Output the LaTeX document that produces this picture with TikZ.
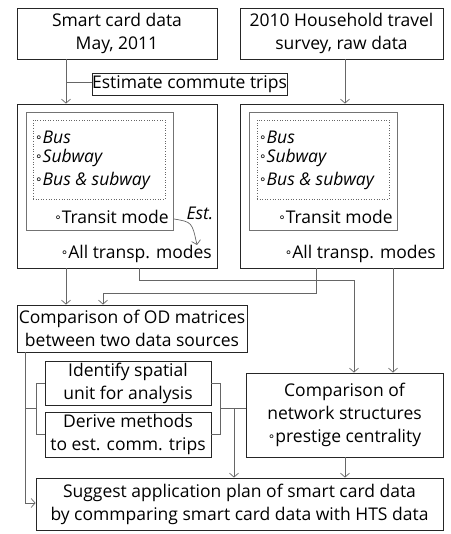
\documentclass[tikz,border=0pt]{standalone}
\usepackage{fontspec}
\setmainfont{Open Sans}
\newfontfamily\symf{DejaVu Sans}
\usetikzlibrary{arrows.meta}
\newcommand{\bul}{\raisebox{2pt}{\symf\fontsize{12}{12}\selectfont ∘}}
\begin{document}
\begin{tikzpicture}[x=1pt,y=-1pt,
  box/.style={draw=black!85,line width=0.8pt,inner sep=0pt,align=center,font=\fontsize{17.5}{23}\selectfont},
  ibox/.style={draw=black!55,line width=0.7pt,inner sep=0pt},
  dbox/.style={draw=black!60,line width=0.6pt,dotted,inner sep=0pt},
  txt/.style={inner sep=0pt,font=\fontsize{17.5}{23}\selectfont},
  con/.style={draw=black!60,line width=0.7pt},
  arr/.style={con,-{Straight Barb[length=4pt,width=9pt]}}]
\useasboundingbox (0,0) rectangle (450,534);
% boxes
\node[box,minimum width=200pt,minimum height=51pt] (sc) at (117,33.5) {Smart card data\\May, 2011};
\node[box,minimum width=203pt,minimum height=51pt] (hts) at (341.5,33.5) {2010 Household travel\\survey, raw data};
\node[box,minimum width=195pt,minimum height=22pt] (est) at (189.5,84) {Estimate commute trips};
\node[box,minimum width=200pt,minimum height=164pt] (Lbig) at (117,186) {};
\node[box,minimum width=203pt,minimum height=164pt] (Rbig) at (341.5,186) {};
\node[ibox,minimum width=147pt,minimum height=118pt] (Lin) at (99.5,171) {};
\node[dbox,minimum width=132pt,minimum height=79pt] (Ldot) at (99,159.5) {};
\node[ibox,minimum width=148pt,minimum height=118pt] (Rin) at (323,171) {};
\node[dbox,minimum width=132pt,minimum height=79pt] (Rdot) at (323,159.5) {};
\node[box,minimum width=230pt,minimum height=47pt] (OD) at (132,328.5) {Comparison of OD matrices\\between two data sources};
\node[box,minimum width=166pt,minimum height=44pt] (ident) at (128,383) {Identify spatial\\unit for analysis};
\node[box,minimum width=166pt,minimum height=45pt] (derive) at (128,434.5) {Derive methods\\to est. comm. trips};
\node[box,minimum width=197pt,minimum height=84pt] (net) at (344.5,415) {Comparison of\\network structures\\\bul prestige centrality};
\node[box,minimum width=407pt,minimum height=52pt] (sug) at (239.5,504) {Suggest application plan of smart card data\\by commparing smart card data with HTS data};
% inner texts
\node[txt,anchor=west] (lb1) at (35,137) {\bul\textit{Bus}};
\node[txt,anchor=west] (lb2) at (35,158) {\bul\textit{Subway}};
\node[txt,anchor=west] (lb3) at (35,181) {\bul\textit{Bus \& subway}};
\node[txt,anchor=east] (ltm) at (169,217) {\bul Transit mode};
\node[txt,anchor=east] (lall) at (212,254) {\bul All transp. modes};
\node[txt] (estl) at (200,213) {\textit{Est.}};
\node[txt,anchor=west] (rb1) at (259,137) {\bul\textit{Bus}};
\node[txt,anchor=west] (rb2) at (259,158) {\bul\textit{Subway}};
\node[txt,anchor=west] (rb3) at (259,181) {\bul\textit{Bus \& subway}};
\node[txt,anchor=east] (rtm) at (393,217) {\bul Transit mode};
\node[txt,anchor=east] (rall) at (436,254) {\bul All transp. modes};
% helper coordinates
\coordinate (j1) at (66,82);
\coordinate (c345) at (345,0);
\coordinate (p1) at (139,280);
\coordinate (p2) at (354,280);
\coordinate (q1) at (316,293);
\coordinate (q2) at (103,293);
\coordinate (r1) at (393,0);
\coordinate (s1) at (25,503);
\coordinate (b1) at (36,408);
\coordinate (b2) at (220,408);
\coordinate (b3) at (234,408);
\coordinate (e1) at (174,219);
\coordinate (e2) at (197,245);
% connectors
\draw[arr] (sc.south -| j1) -- (Lbig.north -| j1);
\draw[con] (j1) -- (est.west |- j1);
\draw[arr] (hts.south -| c345) -- (Rbig.north -| c345);
\draw[arr] (e1) .. controls (192,222) .. (e2);
\draw[arr] (Lbig.south -| j1) -- (OD.north -| j1);
\draw[arr] (Lbig.south -| p1) -- (p1) -- (p2) -- (net.north -| p2);
\draw[arr] (Rbig.south -| q1) -- (q1) -- (q2) -- (OD.north -| q2);
\draw[arr] (Rbig.south -| r1) -- (net.north -| r1);
\draw[arr] (OD.south -| s1) -- (s1) -- (sug.west |- s1);
\draw[con] (ident.west) -- (b1 |- ident.west) -- (b1 |- derive.west) -- (derive.west);
\draw[con] (s1 |- b1) -- (b1);
\draw[con] (ident.east) -- (b2 |- ident.east) -- (b2 |- derive.east) -- (derive.east);
\draw[con] (b2) -- (net.west |- b2);
\draw[arr] (b3) -- (sug.north -| b3);
\draw[arr] (net.south -| c345) -- (sug.north -| c345);
\end{tikzpicture}
\end{document}
